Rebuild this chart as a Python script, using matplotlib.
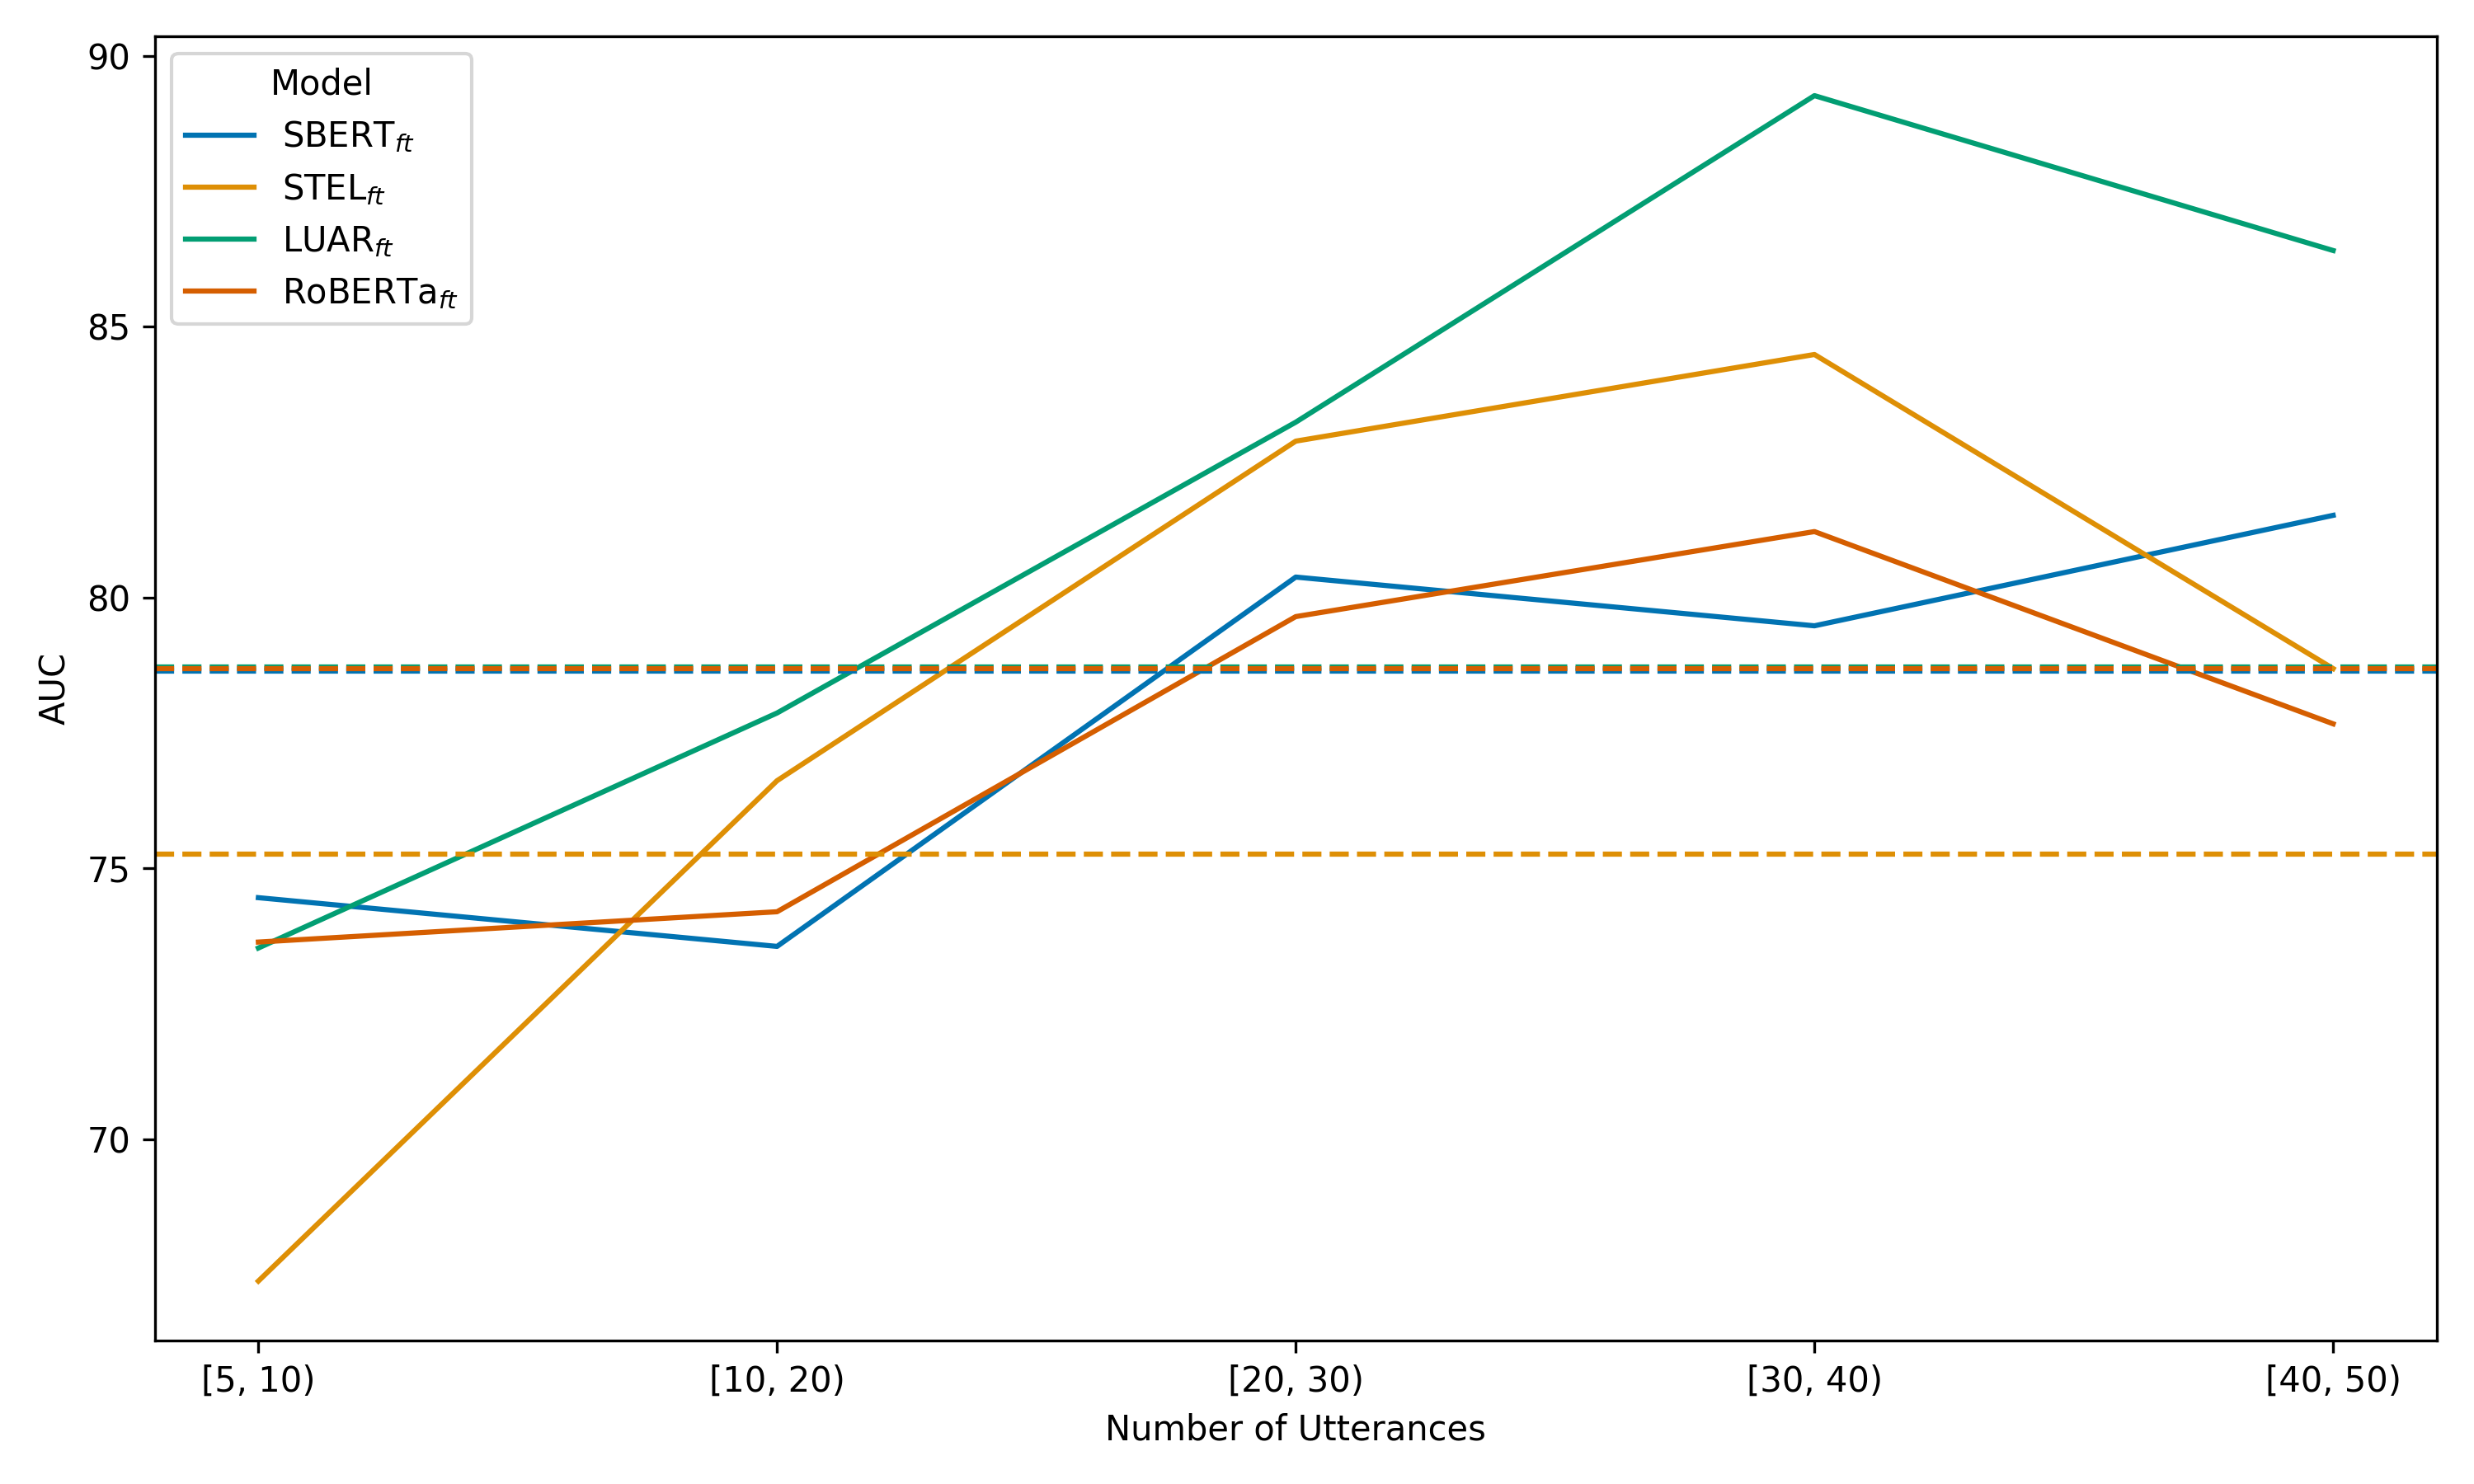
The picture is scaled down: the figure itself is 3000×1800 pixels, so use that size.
import matplotlib
matplotlib.use("Agg")
import matplotlib.pyplot as plt
import seaborn as sns

# utterance buckets on the x axis
buckets = ["[5, 10)", "[10, 20)", "[20, 30)", "[30, 40)", "[40, 50)"]

# AUC per bucket
sbert = [74.46, 73.56, 80.38, 79.48, 81.52]
stel = [67.38, 76.62, 82.89, 84.49, 78.69]
luar = [73.53, 77.87, 83.24, 89.27, 86.41]
roberta = [73.64, 74.20, 79.65, 81.22, 77.67]

# overall AUC per model (dashed reference lines)
overall = [78.65, 75.27, 78.72, 78.69]

labels = [r"SBERT$_{ft}$", r"STEL$_{ft}$", r"LUAR$_{ft}$", r"RoBERTa$_{ft}$"]
colors = sns.color_palette("colorblind", 4)

fig, ax = plt.subplots(figsize=(10, 6), dpi=300)

series = [sbert, stel, luar, roberta]
x = list(range(len(buckets)))
for vals, lab, col in zip(series, labels, colors):
    ax.plot(x, vals, label=lab, color=col, linewidth=1.5)

for val, col in zip(overall, colors):
    ax.axhline(val, color=col, linestyle="--", linewidth=1.5)

ax.set_xticks(x)
ax.set_xticklabels(buckets)
ax.set_xlabel("Number of Utterances")
ax.set_ylabel("AUC")
ax.legend(title="Model", loc="upper left")

plt.subplots_adjust(left=0.0625, right=0.985, top=0.9755, bottom=0.0968)
plt.savefig("out.png", dpi=300)
